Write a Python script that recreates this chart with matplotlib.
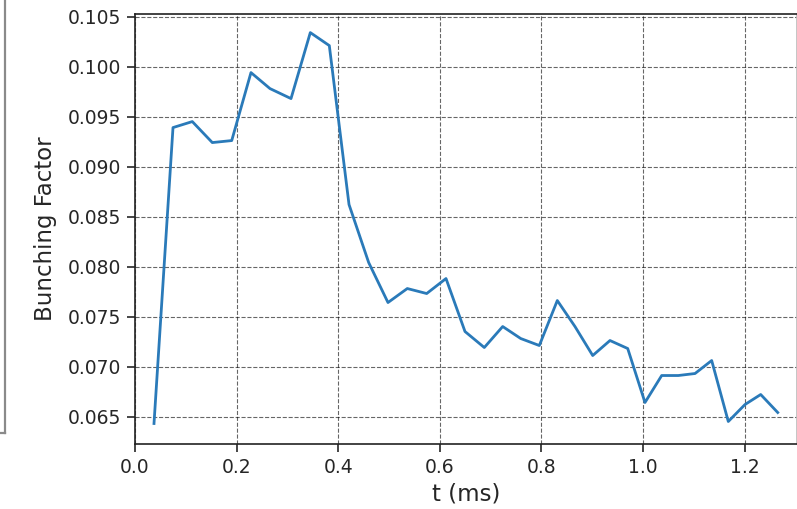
import matplotlib
matplotlib.use("Agg")
import matplotlib.pyplot as plt
from matplotlib.lines import Line2D

t_ms = [0.0374, 0.0748, 0.1128, 0.1522, 0.1904, 0.2283, 0.2657, 0.3071, 0.3451,
        0.3825, 0.4213, 0.4600, 0.4980, 0.5360, 0.5742, 0.6122, 0.6496, 0.6876,
        0.7238, 0.7593, 0.7959, 0.8313, 0.8661, 0.9010, 0.9350, 0.9699, 1.0039,
        1.0368, 1.0695, 1.1024, 1.1352, 1.1679, 1.2008, 1.2317, 1.2652]
bunching = [0.0643, 0.0939, 0.0945, 0.0924, 0.0926, 0.0994, 0.0978, 0.0968, 0.1034,
            0.1021, 0.0862, 0.0804, 0.0764, 0.0778, 0.0773, 0.0788, 0.0735, 0.0719,
            0.0740, 0.0728, 0.0721, 0.0766, 0.0740, 0.0711, 0.0726, 0.0718, 0.0664,
            0.0691, 0.0691, 0.0693, 0.0706, 0.0645, 0.0662, 0.0672, 0.0654]
x_ticks = [0.0, 0.2, 0.4, 0.6, 0.8, 1.0, 1.2]
y_ticks = [0.065, 0.070, 0.075, 0.080, 0.085, 0.090, 0.095, 0.100, 0.105]

W, H = 797, 509
fig = plt.figure(figsize=(W / 100, H / 100), dpi=100)
ax = fig.add_axes([135 / W, 1 - 444 / H, 1 - 135 / W, (444 - 14) / H])

ax.plot(t_ms, bunching, color="#2a7ab9", lw=2)
ax.set_xlim(0.0, (797 - 135) / 508.0)
ax.set_ylim(0.06225, 0.10526)
ax.set_xticks(x_ticks)
ax.set_yticks(y_ticks)
ax.set_xticklabels([f"{v:.1f}" for v in x_ticks])
ax.set_yticklabels([f"{v:.3f}" for v in y_ticks])
ax.tick_params(labelsize=13.5, length=6, width=1.2, colors="#262626", pad=4)
ax.grid(True, color="k", alpha=0.6, linestyle="--", linewidth=0.8)
for s in ax.spines.values():
    s.set_linewidth(1.2)
    s.set_color("#222222")
ax.spines["right"].set_color("#bbbbbb")
ax.set_xlabel("t (ms)", fontsize=16.5, color="#262626", labelpad=4)
ax.set_ylabel("Bunching Factor", fontsize=16.5, color="#262626", labelpad=8)

# Border fragment at the left edge of the reference image
fig.add_artist(Line2D([5 / W, 5 / W], [1.0, 1 - 433 / H], transform=fig.transFigure,
                      color="#8a8a8a", lw=1.6))
fig.add_artist(Line2D([0, 5 / W], [1 - 433 / H, 1 - 433 / H], transform=fig.transFigure,
                      color="#8a8a8a", lw=1.6))

fig.savefig("out.png", dpi=100)
